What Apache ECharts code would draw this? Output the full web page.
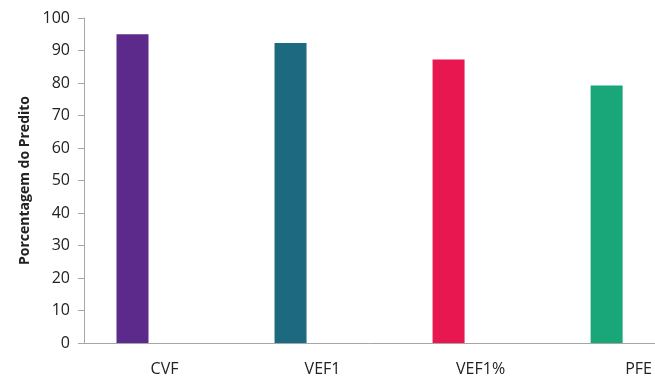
<!DOCTYPE html>
<html>
<head>
<meta charset="utf-8">
<script src="https://cdn.jsdelivr.net/npm/echarts@6/dist/echarts.min.js"></script>
<style>
  html, body { margin: 0; padding: 0; background: #fff; }
  #chart { width: 655px; height: 378px; }
</style>
</head>
<body>
<div id="chart"></div>
<script>
const categories = ['CVF', 'VEF1', 'VEF1%', 'PFE']
const values = [95, 92.3, 87.2, 79.2]
const barColors = ['#5c2a8a', '#1d6a80', '#e8174f', '#19a679']
const yTicks = { min: 0, max: 100, interval: 10 }

const chart = echarts.init(document.getElementById('chart'))
const font = '"Open Sans", Lato, sans-serif'
const axisColor = '#a6a6a6'

chart.setOption({
  animation: false,
  grid: [
    // grid 0: bars sit on category points, labels pushed right like the original
    { left: 132.5, top: 18, width: 478, bottom: 35 },
    // grid 1: the visible axes
    { left: 84, top: 18, right: 0, bottom: 35 }
  ],
  xAxis: [
    {
      type: 'category',
      gridIndex: 0,
      boundaryGap: false,
      data: categories,
      axisLine: { show: false },
      axisTick: { show: false },
      axisLabel: {
        margin: 18,
        fontSize: 16,
        color: '#222',
        fontFamily: font,
        padding: [0, 0, 0, 64]
      }
    },
    {
      type: 'category',
      gridIndex: 1,
      data: [''],
      axisLine: { show: true, lineStyle: { color: axisColor, width: 1 } },
      axisTick: { show: false },
      axisLabel: { show: false }
    }
  ],
  yAxis: [
    {
      type: 'value',
      gridIndex: 0,
      min: yTicks.min,
      max: yTicks.max,
      interval: yTicks.interval,
      show: false
    },
    {
      type: 'value',
      gridIndex: 1,
      min: yTicks.min,
      max: yTicks.max,
      interval: yTicks.interval,
      name: 'Porcentagem do Predito',
      nameLocation: 'middle',
      nameGap: 48,
      nameTextStyle: { fontSize: 14, fontWeight: 'bold', color: '#222', fontFamily: font },
      axisLine: { show: true, lineStyle: { color: axisColor, width: 1 } },
      axisTick: { show: true, length: 6, lineStyle: { color: axisColor } },
      axisLabel: { margin: 14, fontSize: 16, color: '#222', fontFamily: font },
      splitLine: { show: false }
    }
  ],
  series: [
    {
      type: 'bar',
      xAxisIndex: 0,
      yAxisIndex: 0,
      barWidth: 32,
      data: values.map((v, i) => ({ value: v, itemStyle: { color: barColors[i] } }))
    }
  ]
})
</script>
</body>
</html>
